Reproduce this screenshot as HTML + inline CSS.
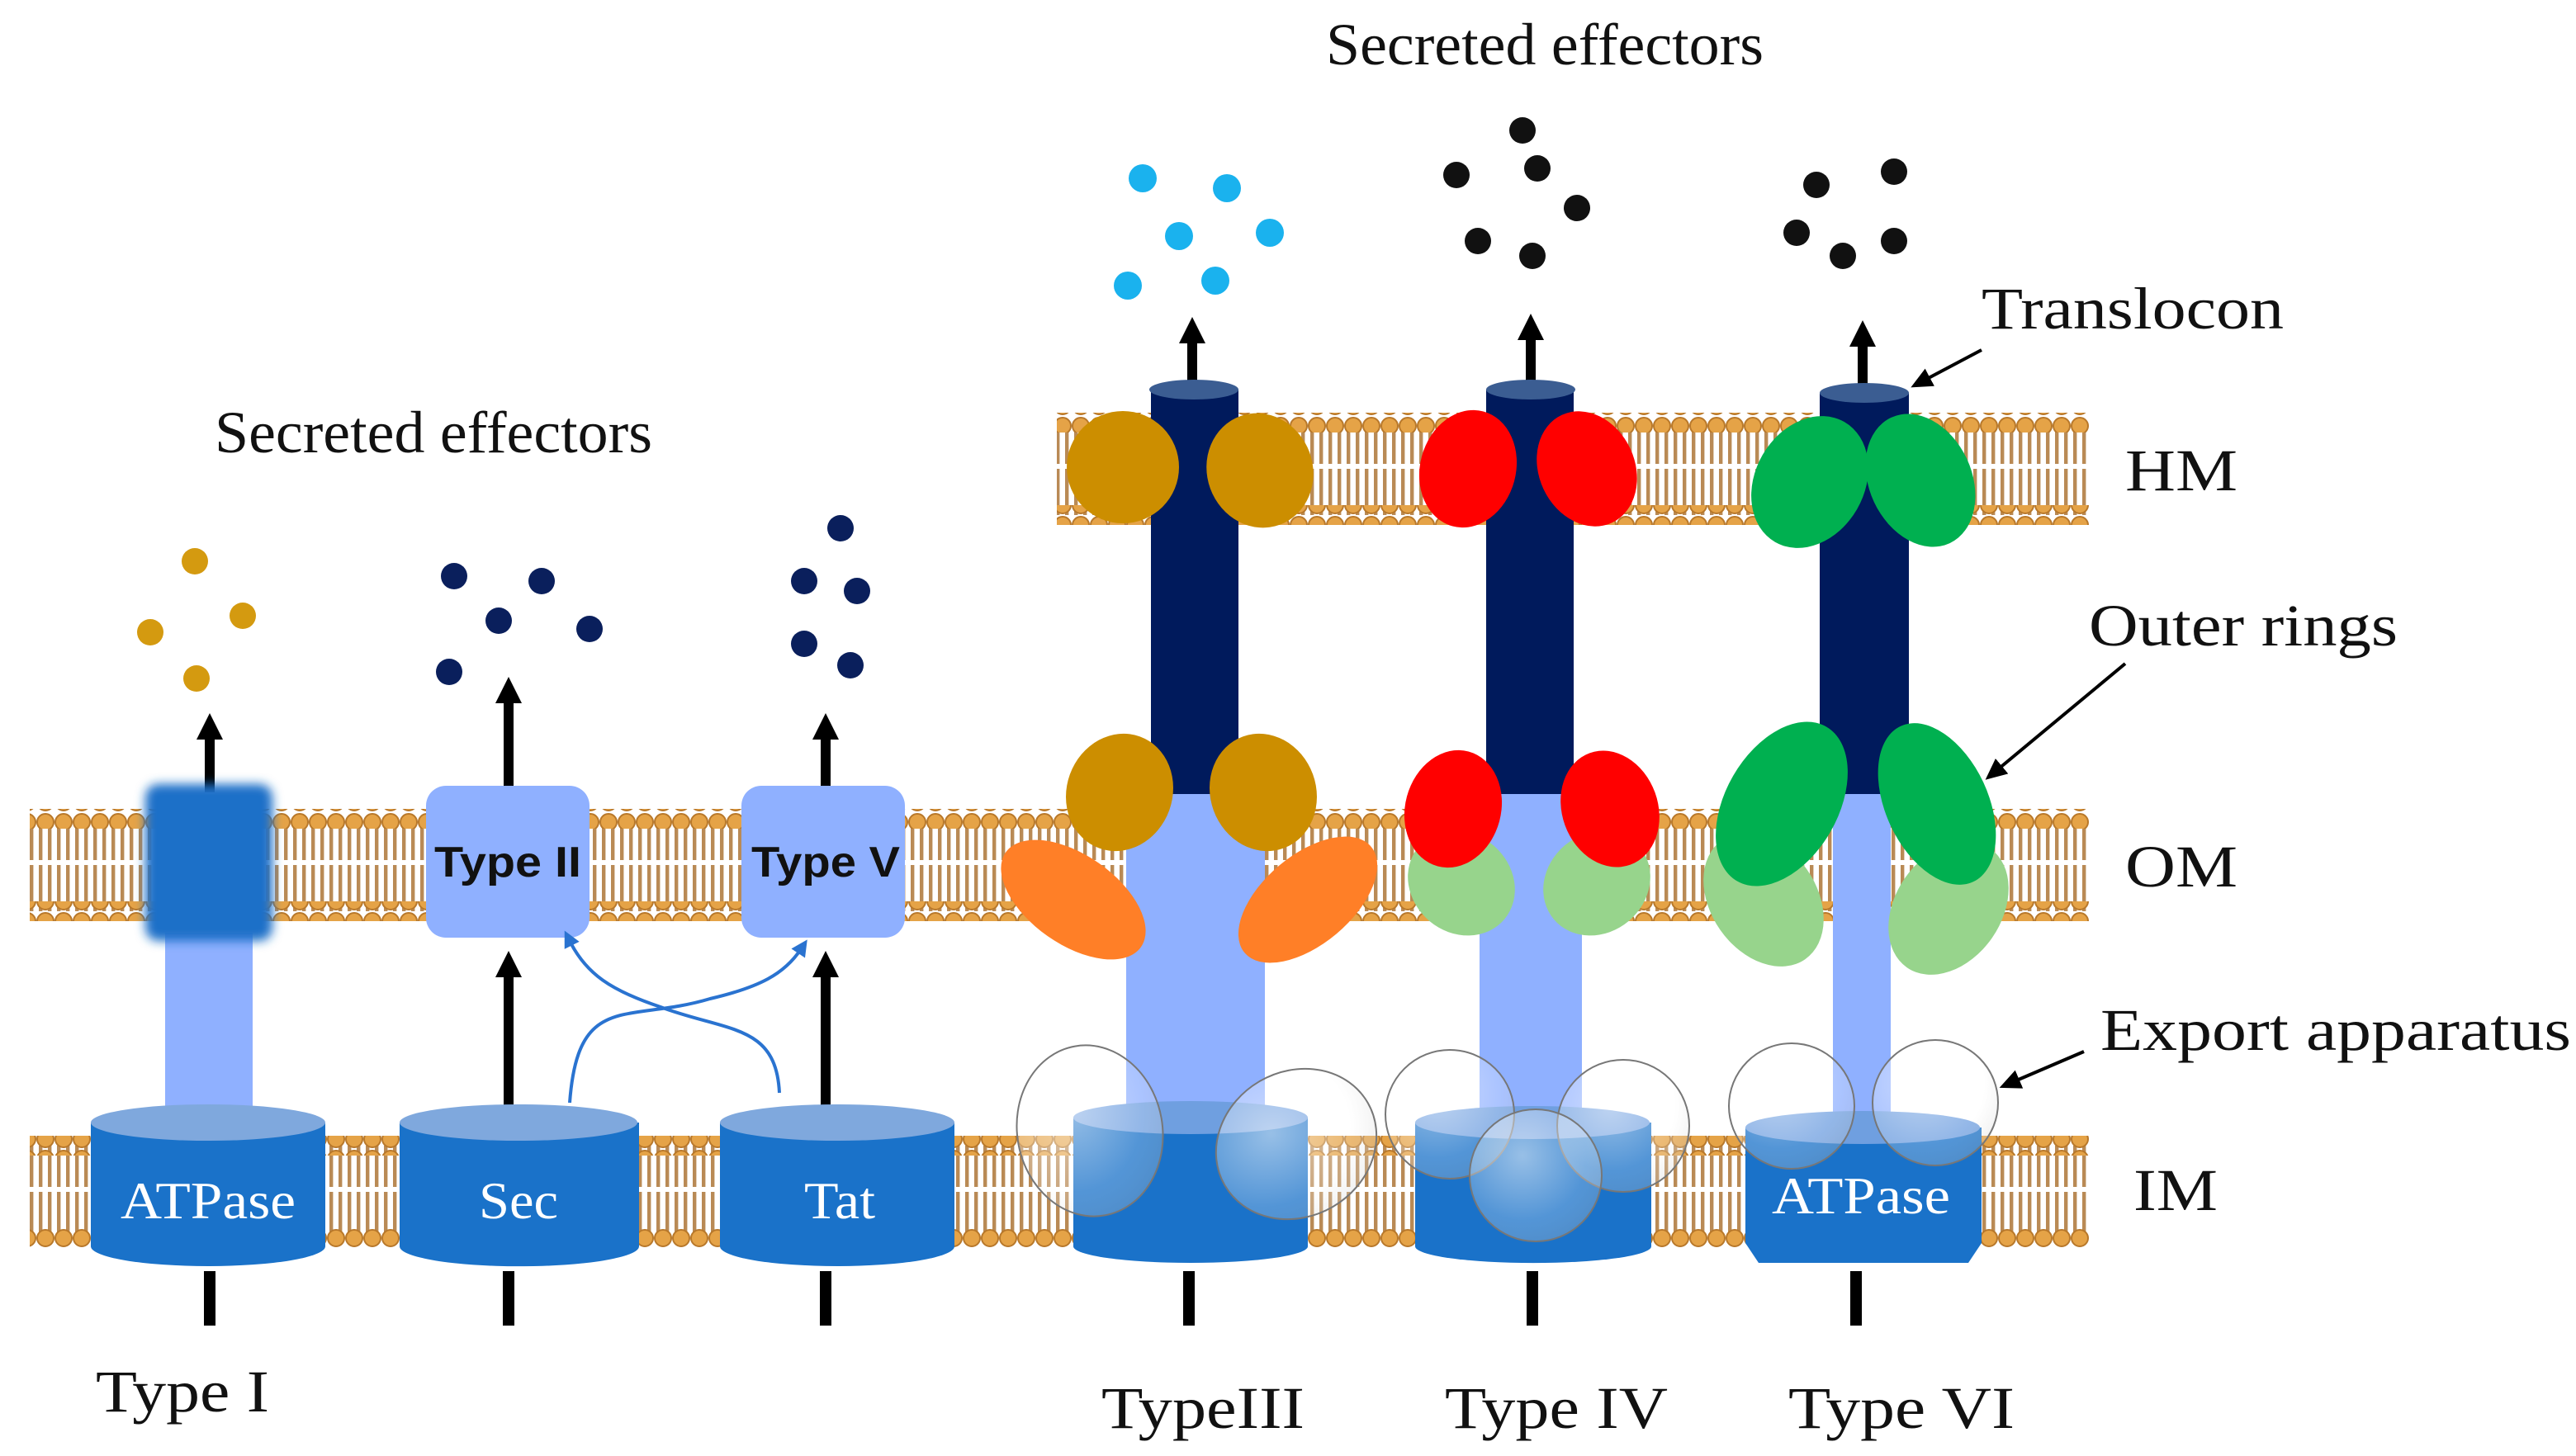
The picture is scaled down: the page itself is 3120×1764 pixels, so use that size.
<!DOCTYPE html>
<html><head><meta charset="utf-8"><style>html,body{margin:0;padding:0;background:#fff}svg{display:block}</style></head>
<body>
<svg width="3120" height="1764" viewBox="0 0 1560 882" xmlns="http://www.w3.org/2000/svg" font-family="Liberation Serif, serif">
<defs>
<pattern id="tails" width="11" height="60" patternUnits="userSpaceOnUse">
<rect width="11" height="60" fill="#fff"/>
<rect x="1.5" y="0" width="2.2" height="60" fill="#b98a55"/>
<rect x="7" y="0" width="2.2" height="60" fill="#b98a55"/>
</pattern>
<pattern id="heads" width="11" height="12" patternUnits="userSpaceOnUse">
<circle cx="5.5" cy="6" r="5" fill="#e5a347" stroke="#b8782a" stroke-width="1"/>
</pattern>
<filter id="blur"><feGaussianBlur stdDeviation="3"/></filter>
<radialGradient id="bub" cx="0.4" cy="0.35" r="0.7">
<stop offset="0" stop-color="#fff" stop-opacity="0.55"/>
<stop offset="0.7" stop-color="#fff" stop-opacity="0.25"/>
<stop offset="1" stop-color="#ccc" stop-opacity="0.3"/>
</radialGradient>
<marker id="ah" markerUnits="userSpaceOnUse" markerWidth="18" markerHeight="16" refX="4" refY="8" orient="auto"><path d="M0,0 L16,8 L0,16 z" fill="#000"/></marker>
<marker id="sh" markerUnits="userSpaceOnUse" markerWidth="14" markerHeight="12" refX="3" refY="6" orient="auto"><path d="M0,0 L13,6 L0,12 z" fill="#000"/></marker>
<marker id="bh" markerUnits="userSpaceOnUse" markerWidth="10" markerHeight="10" refX="3" refY="5" orient="auto"><path d="M0,0 L10,5 L0,10 z" fill="#2a73d0"/></marker>
</defs>

<!-- membranes -->
<g>
<rect x="18" y="496" width="1247" height="56" fill="url(#tails)"/>
<rect x="18" y="521" width="1247" height="3" fill="#fff"/>
<rect x="18" y="490" width="1247" height="12" fill="url(#heads)"/>
<rect x="18" y="546" width="1247" height="12" fill="url(#heads)"/>

<rect x="18" y="694" width="1247" height="56" fill="url(#tails)"/>
<rect x="18" y="719" width="1247" height="3" fill="#fff"/>
<rect x="18" y="688" width="1247" height="12" fill="url(#heads)"/>
<rect x="18" y="744" width="1247" height="12" fill="url(#heads)"/>

<rect x="640" y="256" width="625" height="56" fill="url(#tails)"/>
<rect x="640" y="281" width="625" height="3" fill="#fff"/>
<rect x="640" y="250" width="625" height="12" fill="url(#heads)"/>
<rect x="640" y="306" width="625" height="12" fill="url(#heads)"/>
</g>

<!-- black arrows -->
<g stroke="#000" stroke-width="7">
<line x1="127" y1="770" x2="127" y2="803"/><line x1="308" y1="770" x2="308" y2="803"/><line x1="500" y1="770" x2="500" y2="803"/>
<line x1="720" y1="770" x2="720" y2="803"/><line x1="928" y1="770" x2="928" y2="803"/><line x1="1124" y1="770" x2="1124" y2="803"/>
<line x1="127" y1="480" x2="127" y2="444" marker-end="url(#ah)" stroke-width="6"/>
<line x1="308" y1="478" x2="308" y2="422" marker-end="url(#ah)" stroke-width="6"/>
<line x1="500" y1="478" x2="500" y2="444" marker-end="url(#ah)" stroke-width="6"/>
<line x1="308" y1="672" x2="308" y2="588" marker-end="url(#ah)" stroke-width="6"/>
<line x1="500" y1="672" x2="500" y2="588" marker-end="url(#ah)" stroke-width="6"/>
<line x1="722" y1="236" x2="722" y2="204" marker-end="url(#ah)" stroke-width="6"/>
<line x1="927" y1="236" x2="927" y2="202" marker-end="url(#ah)" stroke-width="6"/>
<line x1="1128" y1="240" x2="1128" y2="206" marker-end="url(#ah)" stroke-width="6"/>
</g>

<!-- Type I -->
<rect x="100" y="565" width="53" height="112" fill="#8fb0ff"/>
<rect x="88" y="475" width="77" height="95" rx="8" fill="#1a6fc8" filter="url(#blur)"/>
<g>
<path d="M55,680 v75 a71,12 0 0 0 142,0 v-75 z" fill="#1a72c9"/>
<ellipse cx="126" cy="680" rx="71" ry="11" fill="#7fa8dd"/>
<path d="M242,680 v75 a72,12 0 0 0 145,0 v-75 z" fill="#1a72c9"/>
<ellipse cx="314" cy="680" rx="72" ry="11" fill="#7fa8dd"/>
<path d="M436,680 v75 a71,12 0 0 0 142,0 v-75 z" fill="#1a72c9"/>
<ellipse cx="507" cy="680" rx="71" ry="11" fill="#7fa8dd"/>
</g>
<g fill="#fff" font-size="32">
<text x="73" y="738" textLength="106" lengthAdjust="spacingAndGlyphs">ATPase</text>
<text x="290" y="738" textLength="48" lengthAdjust="spacingAndGlyphs">Sec</text>
<text x="487" y="738" textLength="43" lengthAdjust="spacingAndGlyphs">Tat</text>
</g>

<!-- Type II / V boxes -->
<rect x="258" y="476" width="99" height="92" rx="12" fill="#8fb0ff"/>
<rect x="449" y="476" width="99" height="92" rx="12" fill="#8fb0ff"/>
<g font-family="Liberation Sans, sans-serif" font-weight="bold" font-size="26" fill="#111">
<text x="263" y="531" textLength="89" lengthAdjust="spacingAndGlyphs">Type II</text>
<text x="455" y="531" textLength="90" lengthAdjust="spacingAndGlyphs">Type V</text>
</g>
<g fill="none" stroke="#2a73d0" stroke-width="2">
<path d="M345,668 C350,600 380,620 430,605 C460,598 475,590 485,575" marker-end="url(#bh)"/>
<path d="M472,662 C470,620 440,625 400,610 C370,600 355,590 345,570" marker-end="url(#bh)"/>
</g>

<!-- effectors -->
<g fill="#d49a10"><circle cx="118" cy="340" r="8"/><circle cx="91" cy="383" r="8"/><circle cx="147" cy="373" r="8"/><circle cx="119" cy="411" r="8"/></g>
<g fill="#0a1f5c"><circle cx="275" cy="349" r="8"/><circle cx="328" cy="352" r="8"/><circle cx="302" cy="376" r="8"/><circle cx="357" cy="381" r="8"/><circle cx="272" cy="407" r="8"/>
<circle cx="509" cy="320" r="8"/><circle cx="487" cy="352" r="8"/><circle cx="519" cy="358" r="8"/><circle cx="487" cy="390" r="8"/><circle cx="515" cy="403" r="8"/></g>
<g fill="#1ab2ee"><circle cx="692" cy="108" r="8.5"/><circle cx="743" cy="114" r="8.5"/><circle cx="714" cy="143" r="8.5"/><circle cx="769" cy="141" r="8.5"/><circle cx="683" cy="173" r="8.5"/><circle cx="736" cy="170" r="8.5"/></g>
<g fill="#111"><circle cx="922" cy="79" r="8"/><circle cx="882" cy="106" r="8"/><circle cx="931" cy="102" r="8"/><circle cx="955" cy="126" r="8"/><circle cx="895" cy="146" r="8"/><circle cx="928" cy="155" r="8"/>
<circle cx="1100" cy="112" r="8"/><circle cx="1147" cy="104" r="8"/><circle cx="1088" cy="141" r="8"/><circle cx="1116" cy="155" r="8"/><circle cx="1147" cy="146" r="8"/></g>

<!-- Type III -->
<rect x="682" y="470" width="84" height="215" fill="#8fb0ff"/>
<rect x="697" y="236" width="53" height="245" fill="#001a5c"/>
<ellipse cx="723" cy="236" rx="27" ry="6" fill="#3b5d92"/>
<ellipse cx="680" cy="283" rx="34" ry="34" fill="#cc8e00"/>
<ellipse cx="763" cy="285" rx="32" ry="35" transform="rotate(-20 763 285)" fill="#cc8e00"/>
<ellipse cx="678" cy="480" rx="32" ry="36" transform="rotate(20 678 480)" fill="#cc8e00"/>
<ellipse cx="765" cy="480" rx="32" ry="36" transform="rotate(-20 765 480)" fill="#cc8e00"/>
<ellipse cx="650" cy="545" rx="50" ry="27" transform="rotate(35 650 545)" fill="#ff7f27"/>
<ellipse cx="792" cy="545" rx="50" ry="27" transform="rotate(-40 792 545)" fill="#ff7f27"/>
<path d="M650,677 v78 a71,10 0 0 0 142,0 v-78 z" fill="#1a72c9"/>
<ellipse cx="721" cy="677" rx="71" ry="10" fill="#6f9fe0"/>

<!-- Type IV -->
<rect x="896" y="470" width="62" height="215" fill="#8fb0ff"/>
<rect x="900" y="236" width="53" height="245" fill="#001a5c"/>
<ellipse cx="927" cy="236" rx="27" ry="6" fill="#3b5d92"/>
<ellipse cx="889" cy="284" rx="29" ry="36" transform="rotate(15 889 284)" fill="#ff0000"/>
<ellipse cx="961" cy="284" rx="29" ry="36" transform="rotate(-25 961 284)" fill="#ff0000"/>
<ellipse cx="885" cy="535" rx="34" ry="30" transform="rotate(40 885 535)" fill="#97d48c"/>
<ellipse cx="967" cy="535" rx="34" ry="30" transform="rotate(-40 967 535)" fill="#97d48c"/>
<ellipse cx="880" cy="490" rx="29" ry="36" transform="rotate(15 880 490)" fill="#ff0000"/>
<ellipse cx="975" cy="490" rx="29" ry="36" transform="rotate(-20 975 490)" fill="#ff0000"/>
<path d="M857,680 v75 a71,10 0 0 0 143,0 v-75 z" fill="#1a72c9"/>
<ellipse cx="928" cy="680" rx="71" ry="10" fill="#6f9fe0"/>

<!-- Type VI -->
<rect x="1110" y="470" width="35" height="215" fill="#8fb0ff"/>
<rect x="1102" y="238" width="54" height="243" fill="#001a5c"/>
<ellipse cx="1129" cy="238" rx="27" ry="6" fill="#3b5d92"/>
<ellipse cx="1096" cy="292" rx="33" ry="42" transform="rotate(30 1096 292)" fill="#00b050"/>
<ellipse cx="1163" cy="291" rx="31" ry="42" transform="rotate(-25 1163 291)" fill="#00b050"/>
<ellipse cx="1068" cy="545" rx="32" ry="44" transform="rotate(-35 1068 545)" fill="#97d48c"/>
<ellipse cx="1180" cy="550" rx="32" ry="44" transform="rotate(35 1180 550)" fill="#97d48c"/>
<ellipse cx="1079" cy="487" rx="34" ry="54" transform="rotate(30 1079 487)" fill="#00b050"/>
<ellipse cx="1173" cy="487" rx="31" ry="52" transform="rotate(-25 1173 487)" fill="#00b050"/>
<path d="M1057,683 v70 l8,12 h127 l8,-12 v-70 z" fill="#1a72c9"/>
<ellipse cx="1128" cy="683" rx="71" ry="10" fill="#6f9fe0"/>
<text x="1073" y="735" fill="#fff" font-size="32" textLength="108" lengthAdjust="spacingAndGlyphs">ATPase</text>

<!-- bubbles -->
<g fill="url(#bub)" stroke="#777" stroke-width="1">
<ellipse cx="660" cy="685" rx="44" ry="52" transform="rotate(-10 660 685)"/>
<ellipse cx="785" cy="693" rx="50" ry="44" transform="rotate(-30 785 693)"/>
<circle cx="878" cy="675" r="39"/>
<circle cx="983" cy="682" r="40"/>
<circle cx="930" cy="712" r="40"/>
<circle cx="1085" cy="670" r="38"/>
<circle cx="1172" cy="668" r="38"/>
</g>

<!-- labels -->
<g font-size="36" fill="#111" lengthAdjust="spacingAndGlyphs">
<text x="130" y="274" textLength="265" lengthAdjust="spacingAndGlyphs">Secreted effectors</text>
<text x="803" y="39" textLength="265" lengthAdjust="spacingAndGlyphs">Secreted effectors</text>
<text x="1200" y="199" textLength="183" lengthAdjust="spacingAndGlyphs">Translocon</text>
<text x="1287" y="297" textLength="68" lengthAdjust="spacingAndGlyphs">HM</text>
<text x="1265" y="391" textLength="187" lengthAdjust="spacingAndGlyphs">Outer rings</text>
<text x="1287" y="537" textLength="68" lengthAdjust="spacingAndGlyphs">OM</text>
<text x="1272" y="636" textLength="285" lengthAdjust="spacingAndGlyphs">Export apparatus</text>
<text x="1292" y="733" textLength="51" lengthAdjust="spacingAndGlyphs">IM</text>
<text x="58" y="855" textLength="105" lengthAdjust="spacingAndGlyphs">Type I</text>
<text x="667" y="865" textLength="123" lengthAdjust="spacingAndGlyphs">TypeIII</text>
<text x="875" y="865" textLength="135" lengthAdjust="spacingAndGlyphs">Type IV</text>
<text x="1083" y="865" textLength="137" lengthAdjust="spacingAndGlyphs">Type VI</text>
</g>
<g stroke="#000" stroke-width="2">
<line x1="1200" y1="212" x2="1166" y2="230" marker-end="url(#sh)"/>
<line x1="1287" y1="402" x2="1210" y2="466" marker-end="url(#sh)"/>
<line x1="1262" y1="637" x2="1220" y2="655" marker-end="url(#sh)"/>
</g>
</svg>
</body></html>
